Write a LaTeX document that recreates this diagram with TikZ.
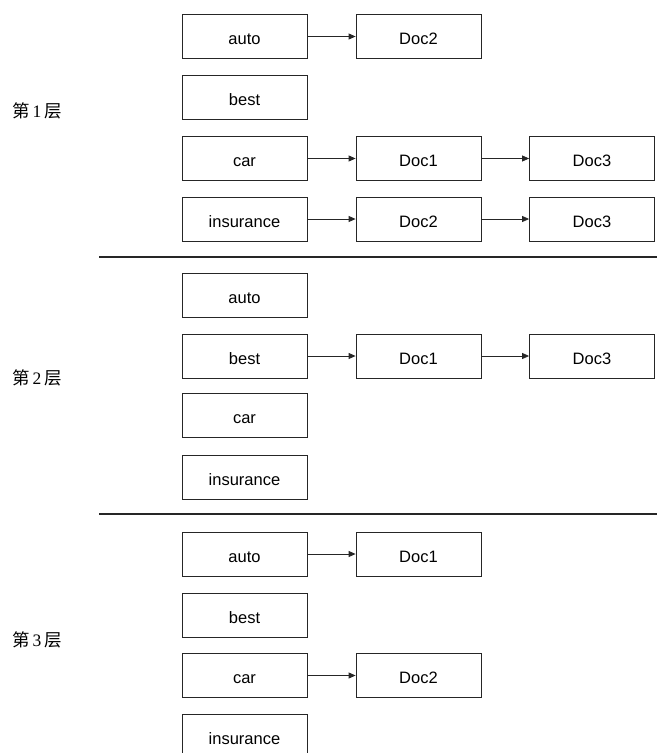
\documentclass[tikz,border=0pt]{standalone}
\usepackage{fontspec}
\setmainfont{Liberation Sans}
\newfontfamily\cjkfont{Noto Sans CJK SC}
\newfontfamily\numfont{Liberation Serif}
\usetikzlibrary{arrows.meta}
\begin{document}
\begin{tikzpicture}[x=1pt,y=-1pt,
  entry/.style={draw=black!85, line width=0.8pt, minimum width=125pt, minimum height=44pt,
    inner sep=0pt, text height=16pt, text depth=0pt, font=\fontsize{16.5}{18}\selectfont},
  link/.style={draw=black!85, line width=0.8pt, -{Triangle[length=7pt,width=6pt]}},
  rule/.style={draw=black!85, line width=1.2pt},
  layer/.style={font=\fontsize{17.5}{20}\selectfont, anchor=west, inner sep=0pt}]
\clip (0,0) rectangle (657,753);

% layer 1
\node[layer] (L1) at (12,111) {\cjkfont 第\hspace{3pt}\numfont 1\hspace{3pt}\cjkfont 层};
\node[entry] (a1) at (244.5,36.5) {auto};
\node[entry] (b1) at (244.5,97.5) {best};
\node[entry] (c1) at (244.5,158.5) {car};
\node[entry] (i1) at (244.5,219) {insurance};
\node[entry] (a1d2) at (418.5,36.5) {Doc2};
\node[entry] (c1d1) at (418.5,158.5) {Doc1};
\node[entry] (c1d3) at (592,158.5) {Doc3};
\node[entry] (i1d2) at (418.5,219) {Doc2};
\node[entry] (i1d3) at (592,219) {Doc3};
\draw[link] (a1) -- (a1d2);
\draw[link] (c1) -- (c1d1);
\draw[link] (c1d1) -- (c1d3);
\draw[link] (i1) -- (i1d2);
\draw[link] (i1d2) -- (i1d3);

\coordinate (s1a) at (99,257);
\coordinate (s1b) at (657,257);
\draw[rule] (s1a) -- (s1b);

% layer 2
\node[layer] (L2) at (12,378) {\cjkfont 第\hspace{3pt}\numfont 2\hspace{3pt}\cjkfont 层};
\node[entry] (a2) at (244.5,295) {auto};
\node[entry] (b2) at (244.5,356) {best};
\node[entry] (c2) at (244.5,415.5) {car};
\node[entry] (i2) at (244.5,477.5) {insurance};
\node[entry] (b2d1) at (418.5,356) {Doc1};
\node[entry] (b2d3) at (592,356) {Doc3};
\draw[link] (b2) -- (b2d1);
\draw[link] (b2d1) -- (b2d3);

\coordinate (s2a) at (99,514);
\coordinate (s2b) at (657,514);
\draw[rule] (s2a) -- (s2b);

% layer 3
\node[layer] (L3) at (12,640) {\cjkfont 第\hspace{3pt}\numfont 3\hspace{3pt}\cjkfont 层};
\node[entry] (a3) at (244.5,554) {auto};
\node[entry] (b3) at (244.5,615) {best};
\node[entry] (c3) at (244.5,675.5) {car};
\node[entry] (i3) at (244.5,736) {insurance};
\node[entry] (a3d1) at (418.5,554) {Doc1};
\node[entry] (c3d2) at (418.5,675.5) {Doc2};
\draw[link] (a3) -- (a3d1);
\draw[link] (c3) -- (c3d2);
\end{tikzpicture}
\end{document}
